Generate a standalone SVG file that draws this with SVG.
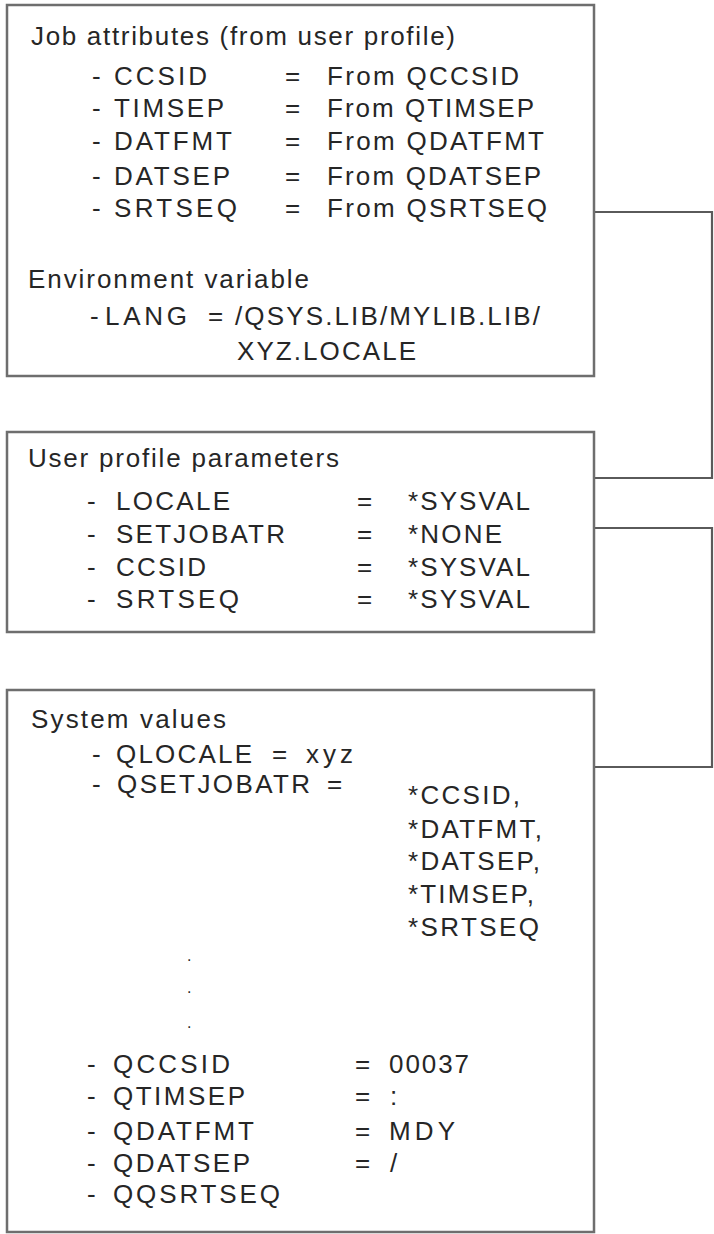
<svg xmlns="http://www.w3.org/2000/svg" width="714" height="1234" viewBox="0 0 714 1234">
<style>
.box{fill:#ffffff;stroke:#6e6e6e;stroke-width:2.5}
.conn{fill:none;stroke:#5a5a5a;stroke-width:2.2}
text{font-family:"Liberation Sans",Arial,Helvetica,sans-serif;font-size:26px;fill:#262626}
.dot{font-size:16px}
</style>
<rect width="714" height="1234" fill="#ffffff"/>
<g id="connectors">
<polyline class="conn" points="594,212 712,212 712,478 594,478"/>
<polyline class="conn" points="594,528 712,528 712,767 594,767"/>
</g>
<g id="job-attributes">
<rect class="box" x="7" y="5" width="587" height="371"/>
<text x="31" y="45" textLength="424" lengthAdjust="spacing">Job attributes (from user profile)</text>
<text x="92" y="85">-</text><text x="114" y="85" textLength="93" lengthAdjust="spacing">CCSID</text><text x="285" y="85">=</text><text x="327" y="85" textLength="192" lengthAdjust="spacing">From QCCSID</text>
<text x="92" y="117">-</text><text x="114" y="117" textLength="110" lengthAdjust="spacing">TIMSEP</text><text x="285" y="117">=</text><text x="327" y="117" textLength="207" lengthAdjust="spacing">From QTIMSEP</text>
<text x="92" y="150">-</text><text x="114" y="150" textLength="118" lengthAdjust="spacing">DATFMT</text><text x="285" y="150">=</text><text x="327" y="150" textLength="217" lengthAdjust="spacing">From QDATFMT</text>
<text x="92" y="185">-</text><text x="114" y="185" textLength="116" lengthAdjust="spacing">DATSEP</text><text x="285" y="185">=</text><text x="327" y="185" textLength="214" lengthAdjust="spacing">From QDATSEP</text>
<text x="92" y="217">-</text><text x="114" y="217" textLength="123" lengthAdjust="spacing">SRTSEQ</text><text x="285" y="217">=</text><text x="327" y="217" textLength="220" lengthAdjust="spacing">From QSRTSEQ</text>
<text x="28" y="288" textLength="281" lengthAdjust="spacing">Environment variable</text>
<text x="90" y="325">-</text><text x="105" y="325" textLength="82" lengthAdjust="spacing">LANG</text><text x="208" y="325">=</text><text x="235" y="325" textLength="305" lengthAdjust="spacing">/QSYS.LIB/MYLIB.LIB/</text>
<text x="237" y="360" textLength="179" lengthAdjust="spacing">XYZ.LOCALE</text>
</g>
<g id="user-profile-parameters">
<rect class="box" x="7" y="432" width="587" height="200"/>
<text x="28" y="467" textLength="311" lengthAdjust="spacing">User profile parameters</text>
<text x="87" y="510">-</text><text x="116" y="510" textLength="114" lengthAdjust="spacing">LOCALE</text><text x="357" y="510">=</text><text x="408" y="510" textLength="122" lengthAdjust="spacing">*SYSVAL</text>
<text x="87" y="543">-</text><text x="116" y="543" textLength="169" lengthAdjust="spacing">SETJOBATR</text><text x="357" y="543">=</text><text x="408" y="543" textLength="94" lengthAdjust="spacing">*NONE</text>
<text x="87" y="576">-</text><text x="116" y="576" textLength="90" lengthAdjust="spacing">CCSID</text><text x="357" y="576">=</text><text x="408" y="576" textLength="122" lengthAdjust="spacing">*SYSVAL</text>
<text x="87" y="608">-</text><text x="116" y="608" textLength="123" lengthAdjust="spacing">SRTSEQ</text><text x="357" y="608">=</text><text x="408" y="608" textLength="122" lengthAdjust="spacing">*SYSVAL</text>
</g>
<g id="system-values">
<rect class="box" x="7" y="690" width="587" height="542"/>
<text x="31" y="728" textLength="195" lengthAdjust="spacing">System values</text>
<text x="92" y="763">-</text><text x="116" y="763" textLength="136" lengthAdjust="spacing">QLOCALE</text><text x="272" y="763">=</text><text x="306" y="763" textLength="47" lengthAdjust="spacing">xyz</text>
<text x="92" y="793">-</text><text x="117" y="793" textLength="193" lengthAdjust="spacing">QSETJOBATR</text><text x="327" y="793">=</text>
<text x="408" y="804" textLength="112" lengthAdjust="spacing">*CCSID,</text>
<text x="408" y="838" textLength="134" lengthAdjust="spacing">*DATFMT,</text>
<text x="408" y="870" textLength="132" lengthAdjust="spacing">*DATSEP,</text>
<text x="408" y="903" textLength="126" lengthAdjust="spacing">*TIMSEP,</text>
<text x="408" y="936" textLength="131" lengthAdjust="spacing">*SRTSEQ</text>
<text class="dot" x="187" y="961">.</text>
<text class="dot" x="187" y="993">.</text>
<text class="dot" x="187" y="1028">.</text>
<text x="87" y="1073">-</text><text x="113" y="1073" textLength="117" lengthAdjust="spacing">QCCSID</text><text x="355" y="1073">=</text><text x="389" y="1073" textLength="80" lengthAdjust="spacing">00037</text>
<text x="87" y="1105">-</text><text x="113" y="1105" textLength="132" lengthAdjust="spacing">QTIMSEP</text><text x="355" y="1105">=</text><text x="390" y="1105">:</text>
<text x="87" y="1140">-</text><text x="113" y="1140" textLength="141" lengthAdjust="spacing">QDATFMT</text><text x="355" y="1140">=</text><text x="389" y="1140" textLength="66" lengthAdjust="spacing">MDY</text>
<text x="87" y="1172">-</text><text x="113" y="1172" textLength="137" lengthAdjust="spacing">QDATSEP</text><text x="355" y="1172">=</text><text x="390" y="1172">/</text>
<text x="87" y="1203">-</text><text x="113" y="1203" textLength="167" lengthAdjust="spacing">QQSRTSEQ</text>
</g>
</svg>
